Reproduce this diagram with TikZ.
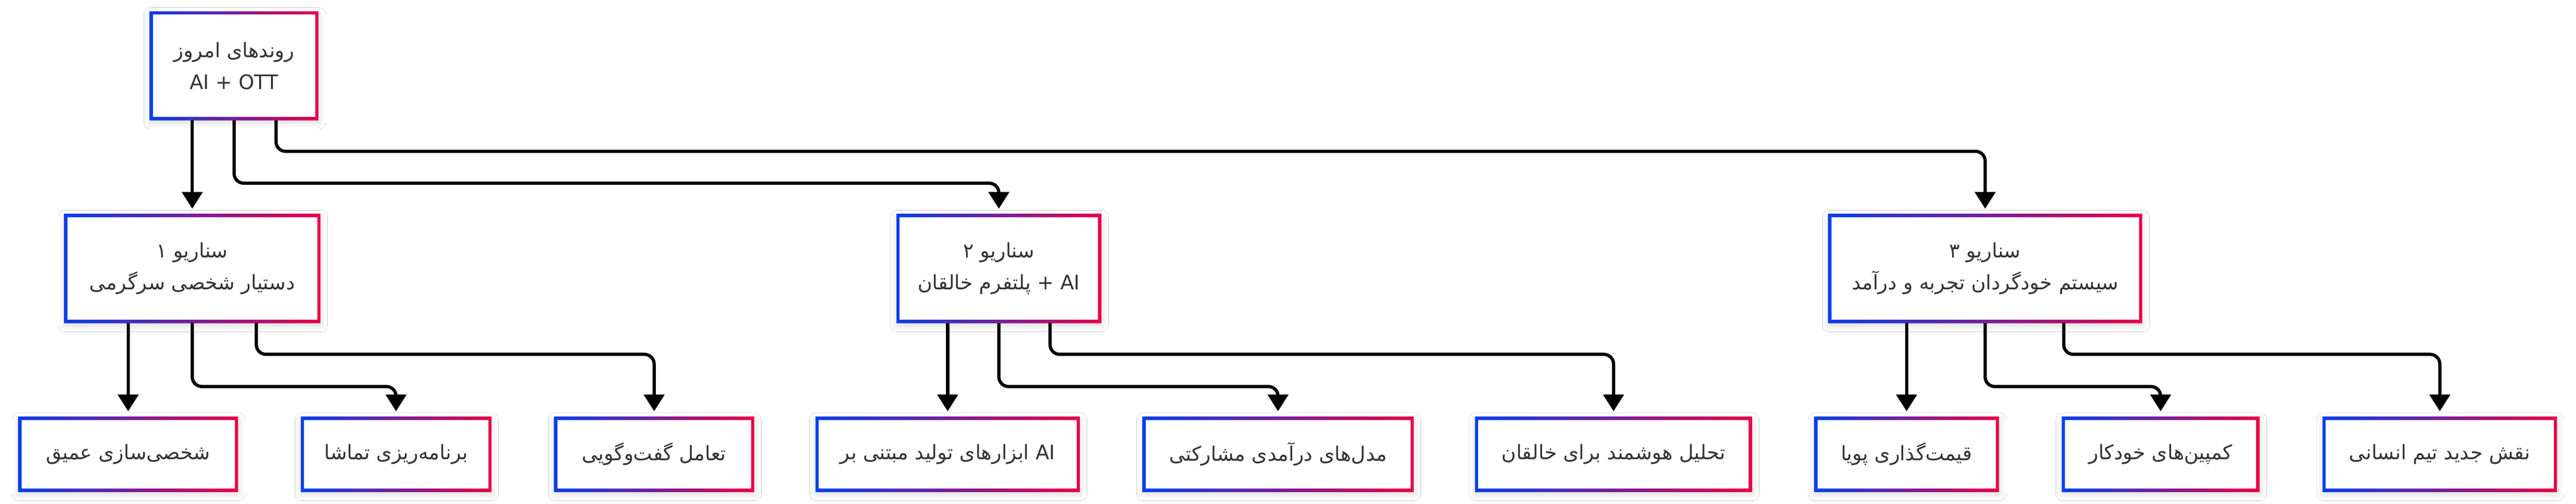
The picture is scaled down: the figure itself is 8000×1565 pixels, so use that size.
\documentclass[tikz,border=0pt]{standalone}
\usepackage{fontspec}
\setmainfont{DejaVu Sans}
\newfontfamily\persianfont[Script=Arabic]{DejaVu Sans}
\TeXXeTstate=1
\usepackage{tikz}
\usetikzlibrary{arrows.meta,shadows.blur}
\definecolor{boxblue}{RGB}{5,64,235}
\definecolor{boxred}{RGB}{235,0,72}
\definecolor{ink}{RGB}{51,51,51}
\newcommand{\fa}[1]{{\persianfont\beginR #1\endR}}
\newcommand{\en}[1]{\beginL #1\endL{}}

\begin{document}
\begin{tikzpicture}[x=0.25pt, y=-0.25pt]
        \tikzset{gbox/.style={rectangle, inner sep=0pt, fill=white, text=ink, align=center,
            font=\fontsize{15.5pt}{25pt}\selectfont,
            blur shadow={shadow xshift=0.5pt, shadow yshift=-2pt, shadow blur radius=5pt, shadow opacity=15},
            path picture={
              \shade[left color=boxblue, right color=boxred] (path picture bounding box.south west) rectangle (path picture bounding box.north east);
              \fill[white] ([shift={(2.5pt,2.5pt)}]path picture bounding box.south west) rectangle ([shift={(-2.5pt,-2.5pt)}]path picture bounding box.north east);}}}
        \tikzset{wd/.style={minimum width=#1*0.25pt}}
        \tikzset{upper/.style={gbox, minimum height=338*0.25pt}}
        \tikzset{leaf/.style={gbox, minimum height=233*0.25pt}}
        \fill[white] (0,0) rectangle (8000,1565);
        \useasboundingbox (0,0) rectangle (8000,1565);
        % top level
        \node[upper, wd=524] (root) at (727, 204.5) {\fa{روندهای امروز}\\AI + OTT};
        % scenarios
        \node[upper, wd=796] (s1) at (597, 834.5) {\fa{سناریو ۱}\\\fa{دستیار شخصی سرگرمی}};
        \node[upper, wd=636] (s2) at (3102, 834.5) {\fa{سناریو ۲}\\\fa{\en{AI} + پلتفرم خالقان}};
        \node[upper, wd=975] (s3) at (6165, 834.5) {\fa{سناریو ۳}\\\fa{سیستم خودگردان تجربه و درآمد}};
        % leaves
        \node[leaf, wd=683] (l1) at (398, 1411.5) {\fa{شخصی^^^^200cسازی عمیق}};
        \node[leaf, wd=592] (l2) at (1230, 1411.5) {\fa{برنامه^^^^200cریزی تماشا}};
        \node[leaf, wd=621] (l3) at (2031.5, 1411.5) {\fa{تعامل گفت^^^^200cوگویی}};
        \node[leaf, wd=821] (l4) at (2943, 1411.5) {\fa{\en{AI} ابزارهای تولید مبتنی بر}};
        \node[leaf, wd=842] (l5) at (3969, 1411.5) {\fa{مدل^^^^200cهای درآمدی مشارکتی}};
        \node[leaf, wd=860] (l6) at (5011, 1411.5) {\fa{تحلیل هوشمند برای خالقان}};
        \node[leaf, wd=574] (l7) at (5921, 1411.5) {\fa{قیمت^^^^200cگذاری پویا}};
        \node[leaf, wd=614] (l8) at (6710, 1411.5) {\fa{کمپین^^^^200cهای خودکار}};
        \node[leaf, wd=728] (l9) at (7577, 1411.5) {\fa{نقش جدید تیم انسانی}};
        \tikzset{link/.style={draw=black, line width=2.5pt, rounded corners=7.5pt, -{Triangle[width=15.75pt, length=13pt]}, shorten >=4pt}}
        \draw[link] ([shift={(-130,0)}]root.south) -- (s1.north);
        \draw[link] (root.south) -- ++(0,195) -| (s2.north);
        \draw[link] ([shift={(130,0)}]root.south) -- ++(0,96) -| (s3.north);
        % scenario 1
        \draw[link] ([shift={(-199,0)}]s1.south) -- (l1.north);
        \draw[link] (s1.south) -- ++(0,197) -| (l2.north);
        \draw[link] ([shift={(199,0)}]s1.south) -- ++(0,97) -| (l3.north);
        % scenario 2
        \draw[link] ([shift={(-159,0)}]s2.south) -- (l4.north);
        \draw[link] (s2.south) -- ++(0,197) -| (l5.north);
        \draw[link] ([shift={(159,0)}]s2.south) -- ++(0,97) -| (l6.north);
        % scenario 3
        \draw[link] ([shift={(-244,0)}]s3.south) -- (l7.north);
        \draw[link] (s3.south) -- ++(0,197) -| (l8.north);
        \draw[link] ([shift={(244,0)}]s3.south) -- ++(0,97) -| (l9.north);
      \end{tikzpicture}
\end{document}
